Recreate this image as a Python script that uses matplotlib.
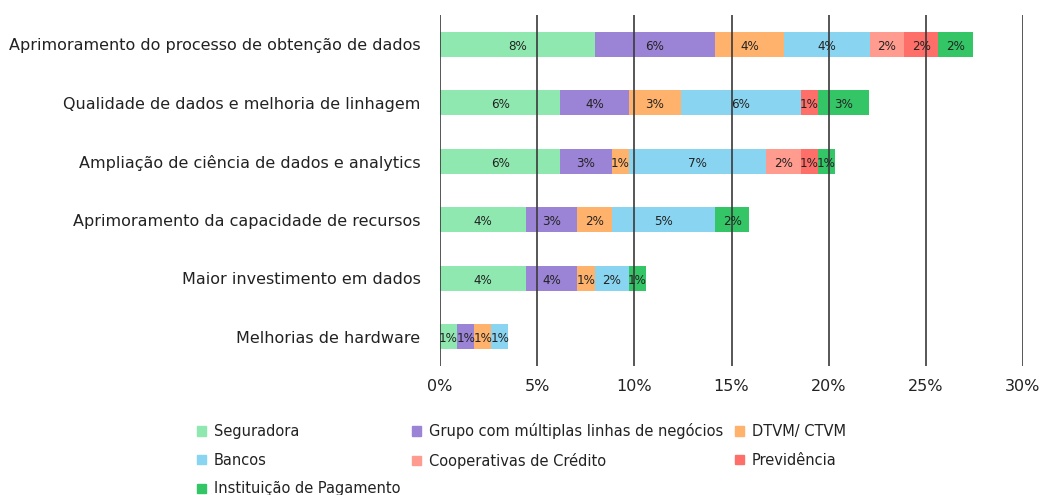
import matplotlib
matplotlib.use("Agg")
import matplotlib.pyplot as plt
from matplotlib.patches import Patch
import numpy as np

categories = [
    "Aprimoramento do processo de obtenção de dados",
    "Qualidade de dados e melhoria de linhagem",
    "Ampliação de ciência de dados e analytics",
    "Aprimoramento da capacidade de recursos",
    "Maior investimento em dados",
    "Melhorias de hardware",
]
series_names = ["Seguradora", "Grupo com múltiplas linhas de negócios", "DTVM/ CTVM",
                "Bancos", "Cooperativas de Crédito", "Previdência", "Instituição de Pagamento"]
seguradora   = [7.96, 6.19, 6.19, 4.42, 4.42, 0.88]
grupo        = [6.19, 3.54, 2.65, 2.65, 2.65, 0.88]
dtvm         = [3.54, 2.65, 0.88, 1.77, 0.88, 0.88]
bancos       = [4.42, 6.19, 7.08, 5.31, 1.77, 0.88]
cooperativas = [1.77, 0.00, 1.77, 0.00, 0.00, 0.00]
previdencia  = [1.77, 0.88, 0.88, 0.00, 0.00, 0.00]
instituicao  = [1.77, 2.65, 0.88, 1.77, 0.88, 0.00]

seguradora_labels   = ["8%", "6%", "6%", "4%", "4%", "1%"]
grupo_labels        = ["6%", "4%", "3%", "3%", "4%", "1%"]
dtvm_labels         = ["4%", "3%", "1%", "2%", "1%", "1%"]
bancos_labels       = ["4%", "6%", "7%", "5%", "2%", "1%"]
cooperativas_labels = ["2%", "", "2%", "", "", ""]
previdencia_labels  = ["2%", "1%", "1%", "", "", ""]
instituicao_labels  = ["2%", "3%", "1%", "2%", "1%", ""]

xticks = [0, 5, 10, 15, 20, 25, 30]
xtick_labels = ["0%", "5%", "10%", "15%", "20%", "25%", "30%"]

colors = ["#8FE8AF", "#9B83D5", "#FFB26B", "#88D4F1", "#FF9B8F", "#FF6F69", "#33C566"]
series = [seguradora, grupo, dtvm, bancos, cooperativas, previdencia, instituicao]
series_labels = [seguradora_labels, grupo_labels, dtvm_labels, bancos_labels,
                 cooperativas_labels, previdencia_labels, instituicao_labels]

plt.rcParams['font.family'] = ['DejaVu Sans']
fig = plt.figure(figsize=(10.41, 4.95), dpi=100)
ax = fig.add_axes([0.4227, 0.2606, 0.56, 0.7091])

y = np.arange(len(categories))
left = np.zeros(len(categories))
handles = []
for name, vals, labs, c in zip(series_names, series, series_labels, colors):
    vals = np.array(vals)
    ax.barh(y, vals, left=left, height=0.43, color=c, zorder=2)
    for i, (v, lab) in enumerate(zip(vals, labs)):
        if v > 0 and lab:
            ax.text(left[i] + v / 2, y[i] + 0.03, lab, ha="center", va="center",
                    fontsize=9.5, fontstretch="condensed", color="#222222", zorder=4)
    left += vals
    handles.append(Patch(color=c, label=name))

ax.set_ylim(len(categories) - 0.5, -0.5)
ax.set_xlim(0, 30)
ax.set_yticks(y)
ax.set_yticklabels(categories, fontsize=11.5, color="#222222")
ax.set_xticks(xticks)
ax.set_xticklabels(xtick_labels, fontsize=11.5, color="#222222")
ax.tick_params(axis="both", length=0)
ax.tick_params(axis="y", pad=14)
ax.tick_params(axis="x", pad=9)
for s in ax.spines.values():
    s.set_visible(False)
for xt in xticks:
    ax.axvline(xt, color="#3a3a3a", lw=1.2, zorder=3)

order = [0, 3, 6, 1, 4, 2, 5]
fig.legend([handles[i] for i in order], [series_names[i] for i in order],
           loc="upper left", bbox_to_anchor=(0.1895, 0.145), ncol=3, frameon=False,
           fontsize=10.5, handlelength=0.6, handleheight=0.6, handletextpad=0.55,
           columnspacing=0.8, labelspacing=0.93, borderpad=0, borderaxespad=0,
           labelcolor="#222222")

fig.savefig("out.png", dpi=100)
